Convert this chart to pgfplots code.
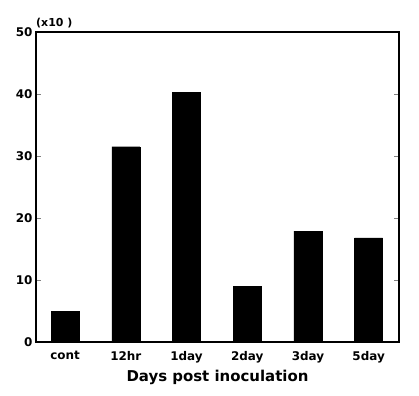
\documentclass[border=0pt]{standalone}
\usepackage{fontspec}
\setmainfont{DejaVu Sans}
\usepackage{pgfplots}
\pgfplotsset{compat=1.18}
\begin{document}
\begin{tikzpicture}
\begin{axis}[
  scale only axis,
  width=363bp, height=310bp,
  xmin=-0.48, xmax=5.5,
  ymin=0, ymax=50,
  ytick={0,10,20,30,40,50},
  xtick={0,1,2,3,4,5},
  xticklabels={cont,12hr,1day,2day,3day,5day},
  major x tick style={draw=none},
  tick align=inside,
  major tick length=5bp,
  axis line style={line width=1.2pt},
  y tick style={line width=0.9pt},
  /pgf/number format/assume math mode=true,
  yticklabel style={font=\bfseries\fontsize{12}{14}\selectfont, xshift=0bp},
  xticklabel style={font=\bfseries\fontsize{12}{14}\selectfont, yshift=-1bp},
  xlabel={Days post inoculation},
  xlabel style={font=\bfseries\fontsize{15}{17}\selectfont, yshift=0bp},
  ybar, bar width=28bp,
  clip=false,
]
\addplot[fill=black, draw=black] coordinates {(0,4.9) (1,31.5) (2,40.3) (3,9.0) (4,17.9) (5,16.8)};
\node[anchor=south west, inner sep=0pt, font=\bfseries\fontsize{11}{13}\selectfont] at (rel axis cs:0,1) [yshift=4bp] {(x10 )};
\end{axis}
\pgfresetboundingbox
\path (current axis.south west) ++(-36bp,-54bp) rectangle ++(419bp,396bp);
\end{tikzpicture}
\end{document}
